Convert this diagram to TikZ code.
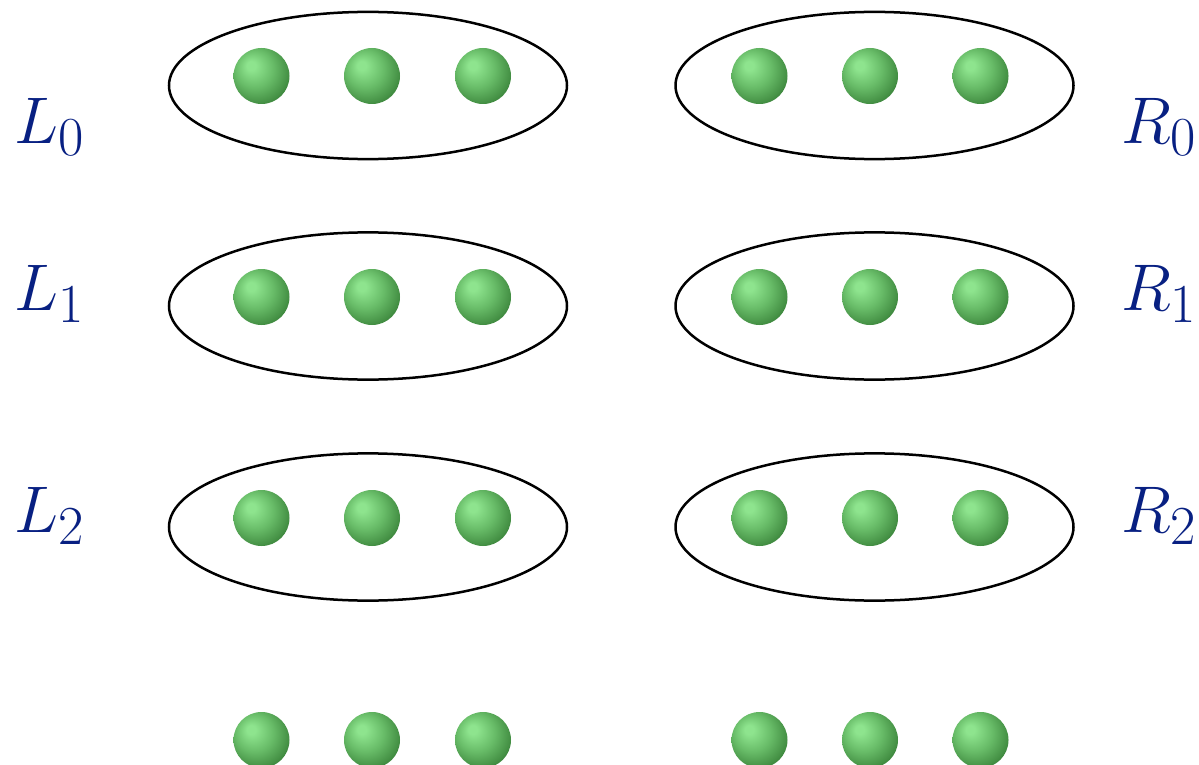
\documentclass[tikz,border=0pt]{standalone}
\usepackage{tikz}
\definecolor{lblue}{RGB}{8,32,130}
\definecolor{lg}{RGB}{142,228,142}
\definecolor{mg}{RGB}{104,188,104}
\definecolor{m2g}{RGB}{70,146,70}
\definecolor{dg}{RGB}{32,100,32}
\pgfdeclareradialshading{greenball}{\pgfpoint{-10bp}{10bp}}{color(0bp)=(lg); color(4bp)=(lg); color(17bp)=(mg); color(28bp)=(m2g); color(38bp)=(dg); color(50bp)=(dg)}
\tikzset{
  ball/.style={circle, inner sep=0pt, minimum size=28pt, shading=greenball},
  group/.style={draw=black, line width=1.25pt},
  lab/.style={anchor=base west, inner sep=0pt, text=lblue, font=\Huge, scale=1.326}
}
\begin{document}
\begin{tikzpicture}[x=0.5pt,y=-0.5pt]
\useasboundingbox (0,0) rectangle (1199,765);
\clip (0,0) rectangle (1199,765);
% ellipses
\draw[group] (368,85.5) ellipse [x radius=99.5pt, y radius=36.8pt];
\draw[group] (874.5,85.5) ellipse [x radius=99.5pt, y radius=36.8pt];
\draw[group] (368,306) ellipse [x radius=99.5pt, y radius=36.8pt];
\draw[group] (874.5,306) ellipse [x radius=99.5pt, y radius=36.8pt];
\draw[group] (368,527) ellipse [x radius=99.5pt, y radius=36.8pt];
\draw[group] (874.5,527) ellipse [x radius=99.5pt, y radius=36.8pt];
% balls
\foreach \r/\yy in {0/76,1/297,2/518,3/740}{
  \node[ball] (l\r a) at (261.5,\yy) {};
  \node[ball] (l\r b) at (372,\yy) {};
  \node[ball] (l\r c) at (483,\yy) {};
  \node[ball] (r\r a) at (759.5,\yy) {};
  \node[ball] (r\r b) at (870,\yy) {};
  \node[ball] (r\r c) at (980.5,\yy) {};
}
% labels
\node[lab] (L0) at (14,143) {$L_0$};
\node[lab] (L1) at (14,310) {$L_1$};
\node[lab] (L2) at (14,532) {$L_2$};
\node[lab] (R0) at (1121,143) {$R_0$};
\node[lab] (R1) at (1121,310) {$R_1$};
\node[lab] (R2) at (1121,532) {$R_2$};
\end{tikzpicture}
\end{document}
